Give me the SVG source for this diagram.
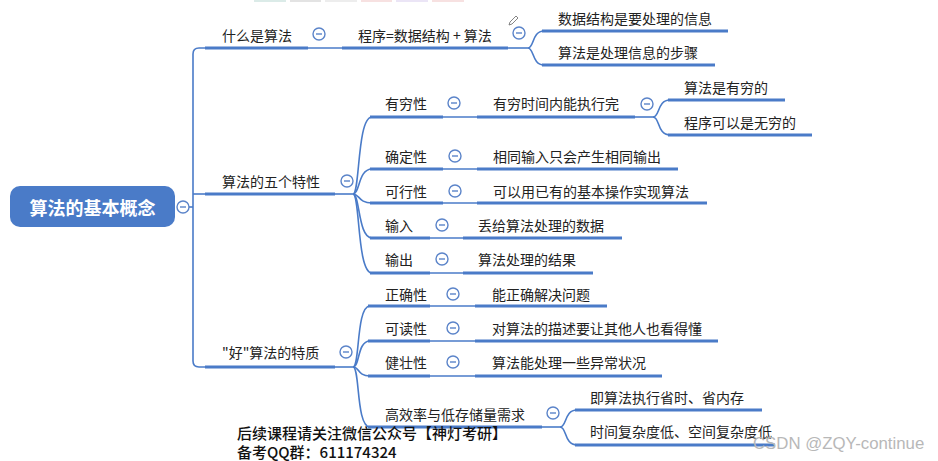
<svg xmlns="http://www.w3.org/2000/svg" width="938" height="461" viewBox="0 0 938 461">
<style>
text{font-family:"Noto Sans CJK SC","Liberation Sans",sans-serif;font-size:14px;fill:#222;dominant-baseline:central}
.thick{stroke:#4a7bc8;stroke-width:3.2;fill:none;stroke-linecap:butt}
.thin{stroke:#4a7bc8;stroke-width:1.6;fill:none}
.root{font-size:18px;font-weight:bold;fill:#fff}
.foot{font-size:15px;fill:#111;font-weight:500;dominant-baseline:auto}
.wm{font-size:16.8px;fill:#b8b8b8;dominant-baseline:auto;font-family:"Liberation Sans",sans-serif}
</style>
<defs>
<g id="minus"><circle r="6" fill="#fff" stroke="#5b84c9" stroke-width="1.4"/><line x1="-3" y1="0" x2="3" y2="0" stroke="#5b84c9" stroke-width="1.4"/></g>
</defs>
<rect width="938" height="461" fill="#fff"/>
<g opacity="0.5">
<rect x="254" y="0" width="32" height="2" fill="#b9d8d2"/>
<rect x="290" y="0" width="31" height="2" fill="#c8c8c8"/>
<rect x="325" y="0" width="32" height="2" fill="#dddddd"/>
<rect x="361" y="0" width="31" height="2" fill="#f0c4c4"/>
<rect x="396" y="0" width="32" height="2" fill="#d8cdee"/>
<rect x="432" y="0" width="32" height="2" fill="#f0c4c4"/>
</g>

<g id="connectors">
<path class="thin" d="M189,207 H193"/>
<path class="thin" d="M205,48 H199 Q193,48 193,54 V361 Q193,367 199,367 H205"/>
<path class="thin" d="M193,194 H205"/>
<path class="thick" d="M205,48 H308"/>
<path class="thin" d="M308,48 H342"/>
<path class="thick" d="M342,48 H508"/>
<path class="thin" d="M508,48 H528"/>
<path class="thin" d="M528,48 C534,48 532,31 544,31"/>
<path class="thin" d="M528,48 C534,48 532,65 544,65"/>
<path class="thick" d="M542,31 H728"/>
<path class="thick" d="M542,65 H715"/>
<path class="thick" d="M205,194 H335"/>
<path class="thin" d="M335,194 H353"/>
<path class="thin" d="M353,194 C360,194 357,117 372,117"/>
<path class="thin" d="M353,194 C360,194 358,169 372,169"/>
<path class="thin" d="M353,194 C360,194 358,203 372,203"/>
<path class="thin" d="M353,194 C360,194 358,238 372,238"/>
<path class="thin" d="M353,194 C360,194 357,273 372,273"/>
<path class="thick" d="M370,117 H443"/>
<path class="thin" d="M443,117 H477"/>
<path class="thick" d="M477,117 H635"/>
<path class="thin" d="M635,117 H653"/>
<path class="thin" d="M653,117 C660,117 657,100 670,100"/>
<path class="thin" d="M653,117 C660,117 657,135 670,135"/>
<path class="thick" d="M668,100 H785"/>
<path class="thick" d="M668,135 H812"/>
<path class="thick" d="M370,169 H443"/>
<path class="thin" d="M443,169 H477"/>
<path class="thick" d="M477,169 H678"/>
<path class="thick" d="M370,203 H443"/>
<path class="thin" d="M443,203 H477"/>
<path class="thick" d="M477,203 H707"/>
<path class="thick" d="M370,238 H430"/>
<path class="thin" d="M430,238 H463"/>
<path class="thick" d="M463,238 H622"/>
<path class="thick" d="M370,273 H430"/>
<path class="thin" d="M430,273 H463"/>
<path class="thick" d="M463,273 H593"/>
<path class="thick" d="M205,367 H335"/>
<path class="thin" d="M335,367 H353"/>
<path class="thin" d="M353,367 C360,367 356,306 370,306"/>
<path class="thin" d="M353,367 C360,367 357,341 370,341"/>
<path class="thin" d="M353,367 C360,367 357,376 370,376"/>
<path class="thin" d="M353,367 C360,367 356,427 370,427"/>
<path class="thick" d="M368,306 H430"/>
<path class="thin" d="M430,306 H475"/>
<path class="thick" d="M475,306 H607"/>
<path class="thick" d="M368,341 H430"/>
<path class="thin" d="M430,341 H475"/>
<path class="thick" d="M475,341 H718"/>
<path class="thick" d="M368,376 H430"/>
<path class="thin" d="M430,376 H475"/>
<path class="thick" d="M475,376 H662"/>
<path class="thick" d="M368,427 H542"/>
<path class="thin" d="M542,427 H560"/>
<path class="thin" d="M560,427 C567,427 564,410 577,410"/>
<path class="thin" d="M560,427 C567,427 564,445 577,445"/>
<path class="thick" d="M575,410 H762"/>
<path class="thick" d="M575,445 H775"/>
</g>

<g id="root">
<rect x="10" y="186" width="165" height="41" rx="10" fill="#4a7bc8"/>
<text class="root" x="92.5" y="207" text-anchor="middle">算法的基本概念</text>
<use href="#minus" x="183" y="207"/>
</g>

<g id="n-what">
<text x="222" y="35">什么是算法</text>
<use href="#minus" x="319" y="34"/>
</g>
<g id="n-program">
<text x="358" y="35">程序=数据结构 + 算法</text>
<use href="#minus" x="519" y="33"/>
<path d="M510,22 L516,16 L518,18 L512,24 L509,25 Z" fill="none" stroke="#666" stroke-width="0.8"/>
</g>
<g id="n-ds"><text x="558" y="18">数据结构是要处理的信息</text></g>
<g id="n-alg"><text x="558" y="52">算法是处理信息的步骤</text></g>

<g id="n-five">
<text x="222" y="181">算法的五个特性</text>
<use href="#minus" x="347" y="181"/>
</g>
<g id="n-finite">
<text x="385" y="103">有穷性</text>
<use href="#minus" x="454" y="103"/>
</g>
<g id="n-finite-d">
<text x="493" y="103">有穷时间内能执行完</text>
<use href="#minus" x="647" y="104"/>
</g>
<g id="n-fin1"><text x="684" y="87">算法是有穷的</text></g>
<g id="n-fin2"><text x="684" y="122">程序可以是无穷的</text></g>
<g id="n-def">
<text x="385" y="156">确定性</text>
<use href="#minus" x="455" y="156"/>
</g>
<g id="n-def-d"><text x="493" y="156">相同输入只会产生相同输出</text></g>
<g id="n-feas">
<text x="385" y="191">可行性</text>
<use href="#minus" x="455" y="191"/>
</g>
<g id="n-feas-d"><text x="493" y="191">可以用已有的基本操作实现算法</text></g>
<g id="n-in">
<text x="385" y="225">输入</text>
<use href="#minus" x="442" y="225"/>
</g>
<g id="n-in-d"><text x="478" y="225">丢给算法处理的数据</text></g>
<g id="n-out">
<text x="385" y="259">输出</text>
<use href="#minus" x="442" y="259"/>
</g>
<g id="n-out-d"><text x="478" y="259">算法处理的结果</text></g>

<g id="n-good">
<text x="222" y="352">"好"算法的特质</text>
<use href="#minus" x="346" y="352"/>
</g>
<g id="n-correct">
<text x="385" y="294">正确性</text>
<use href="#minus" x="453" y="294"/>
</g>
<g id="n-correct-d"><text x="492" y="294">能正确解决问题</text></g>
<g id="n-read">
<text x="385" y="328">可读性</text>
<use href="#minus" x="453" y="328"/>
</g>
<g id="n-read-d"><text x="492" y="328">对算法的描述要让其他人也看得懂</text></g>
<g id="n-robust">
<text x="385" y="362">健壮性</text>
<use href="#minus" x="453" y="362"/>
</g>
<g id="n-robust-d"><text x="492" y="362">算法能处理一些异常状况</text></g>
<g id="n-eff">
<text x="385" y="414">高效率与低存储量需求</text>
<use href="#minus" x="553" y="413"/>
</g>
<g id="n-eff1"><text x="590" y="397">即算法执行省时、省内存</text></g>
<g id="n-eff2"><text x="590" y="431">时间复杂度低、空间复杂度低</text></g>

<g id="footer">
<text class="foot" x="237" y="439">后续课程请关注微信公众号【神灯考研】</text>
<text class="foot" x="237" y="458">备考QQ群：611174324</text>
</g>
<text class="wm" x="753" y="449">CSDN @ZQY-continue</text>
</svg>
